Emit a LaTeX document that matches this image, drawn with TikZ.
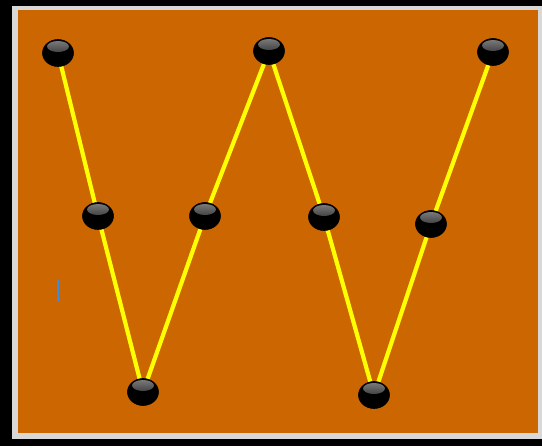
\documentclass[tikz,border=0pt]{standalone}
\usetikzlibrary{shapes.geometric}
\definecolor{bgorange}{HTML}{CC6600}
\definecolor{framegray}{HTML}{D8D8D8}
\definecolor{lineyellow}{HTML}{FFFF00}
\definecolor{cursorblue}{HTML}{3C8CE0}
\pgfdeclarelayer{back}
\pgfdeclarelayer{edges}
\pgfsetlayers{back,edges,main}
\tikzset{
  dot/.style={ellipse, minimum width=31pt, minimum height=27pt, inner sep=0pt,
    fill=black, draw=black, line width=0.6pt,
    path picture={\shade[top color=black!50, bottom color=black]
      ([yshift=-7pt]path picture bounding box.north) ellipse (11pt and 5.5pt);}},
  wire/.style={lineyellow, line width=4.2pt}
}
\begin{document}
\begin{tikzpicture}[x=1pt,y=-1pt]
\useasboundingbox (0,0) rectangle (542,448);
\begin{pgfonlayer}{back}
\fill[white] (0,0) rectangle (542,448);
\fill[black] (0,0) rectangle (542,446);
\fill[framegray] (12,6) rectangle (542,439);
\fill[bgorange] (18,10) rectangle (538,433);
\draw[cursorblue, line width=2pt] (58,280) -- (58,302);
\end{pgfonlayer}
\node[dot] (n1) at (58,53) {};
\node[dot] (n2) at (98,216) {};
\node[dot] (n3) at (143,392) {};
\node[dot] (n4) at (205,216) {};
\node[dot] (n5) at (269,51) {};
\node[dot] (n6) at (324,217) {};
\node[dot] (n7) at (374,395) {};
\node[dot] (n8) at (431,224) {};
\node[dot] (n9) at (493,52) {};
\begin{pgfonlayer}{edges}
\draw[wire] (n1.center) -- (n2.center) -- (n3.center) -- (n4.center) -- (n5.center)
  -- (n6.center) -- (n7.center) -- (n8.center) -- (n9.center);
\end{pgfonlayer}
\end{tikzpicture}
\end{document}
